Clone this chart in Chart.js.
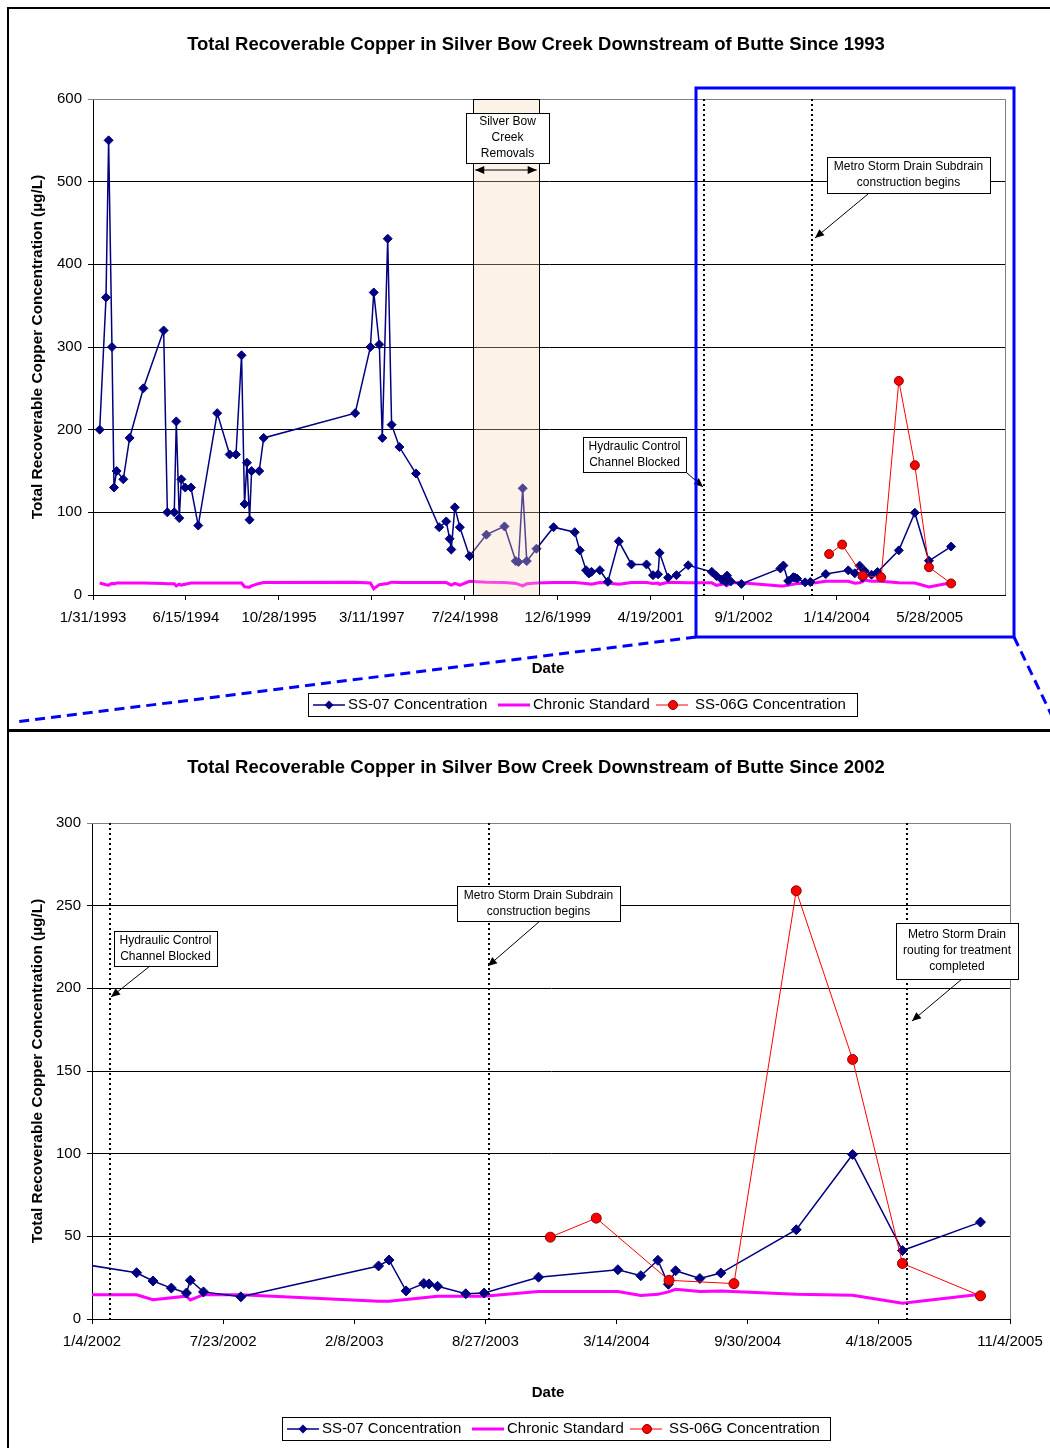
<!DOCTYPE html>
<html>
<head>
<meta charset="utf-8">
<title>Total Recoverable Copper in Silver Bow Creek</title>
<script src="https://cdn.jsdelivr.net/npm/chart.js@4.4.1/dist/chart.umd.min.js"></script>
<style>
  html, body { margin: 0; padding: 0; background: #fff; }
  #page { position: relative; width: 1050px; height: 1448px; overflow: hidden; background: #fff; }
  canvas { position: absolute; left: 0; }
  #c1 { top: 0; }
  #c2 { top: 730px; }
  .rule { position: absolute; background: #000; }
</style>
</head>
<body>
<div id="page">
  <canvas id="c1" width="1050" height="730"></canvas>
  <canvas id="c2" width="1050" height="718"></canvas>
  <div class="rule" style="left:7px;top:7px;width:2px;height:1441px"></div>
  <div class="rule" style="left:7px;top:7px;width:1043px;height:2px"></div>
  <div class="rule" style="left:7px;top:729px;width:1043px;height:3px"></div>
</div>
<script>
// ---- SS-07 total recoverable copper (µg/L) ----
const ss07Dates = [
  '1993-03-08','1993-04-11','1993-04-25','1993-05-13','1993-05-24','1993-06-07','1993-07-13','1993-08-16','1993-10-29',
  '1994-02-15','1994-03-07','1994-04-13','1994-04-24','1994-05-10','1994-05-21','1994-06-11','1994-07-12','1994-08-20','1994-11-30',
  '1995-02-05','1995-03-11','1995-04-10','1995-04-26','1995-05-09','1995-05-23','1995-06-03','1995-07-14','1995-08-07',
  '1996-12-11',
  '1997-03-03','1997-03-21','1997-04-20','1997-05-06','1997-06-04','1997-06-25','1997-08-06','1997-11-03',
  '1998-03-08','1998-04-15','1998-05-03','1998-05-12','1998-05-31','1998-06-27','1998-08-18','1998-11-17',
  '1999-02-22','1999-04-24','1999-05-08','1999-05-31','1999-06-22','1999-08-13','1999-11-13',
  '2000-03-06','2000-04-02','2000-05-06','2000-05-21','2000-06-04','2000-07-19','2000-08-31','2000-10-29',
  '2001-01-05','2001-03-27','2001-05-01','2001-05-28','2001-06-05','2001-07-21','2001-09-04','2001-11-06',
  '2002-03-13','2002-04-07','2002-05-05','2002-05-28','2002-06-03','2002-06-23','2002-08-19',
  '2003-03-17','2003-04-02','2003-04-28','2003-05-25','2003-06-02','2003-06-15','2003-07-28','2003-08-25','2003-11-16',
  '2004-03-16','2004-04-20','2004-05-16','2004-06-01','2004-06-12','2004-07-19','2004-08-20','2004-12-13',
  '2005-03-09','2005-05-24','2005-09-20'
];
const ss07Values = [
  200, 360, 550, 300, 130, 150, 140, 190, 250,
  320, 100, 100, 210, 93, 140, 130, 130, 84, 220,
  170, 170, 290, 110, 160, 91, 150, 150, 190,
  220,
  300, 366, 303, 190, 431, 206, 179, 147,
  82, 89, 68, 55, 106, 82, 47, 73,
  83, 41, 40, 129, 41, 56, 82,
  76, 54, 30, 26, 28, 30, 16, 65,
  37, 37, 24, 25, 51, 21, 24, 36,
  28, 23, 18.7, 15.7, 23.4, 16.4, 13.4,
  32.1, 35.7, 17, 21.5, 21.2, 19.8, 15.3, 15.7, 25.3,
  29.8, 26.2, 35.5, 21, 29.2, 24.5, 27.8, 54,
  99.5, 41.4, 58.6
];

// ---- SS-06G total recoverable copper (µg/L) ----
const ss06gDates = ['2003-12-04','2004-02-12','2004-06-02','2004-09-09','2004-12-13','2005-03-09','2005-05-24','2005-09-20'];
const ss06gValues = [49.5, 61, 23.4, 21.4, 259, 157, 33.6, 14];

// ---- Chronic aquatic-life standard (µg/L) ----
const chronicDates = [
  '1993-03-08','1993-04-11','1993-04-25','1993-05-13','1993-05-24','1993-06-07','1993-08-16','1993-10-29',
  '1994-02-15','1994-03-07','1994-04-13','1994-04-24','1994-05-10','1994-05-21','1994-06-11','1994-07-12','1994-11-30',
  '1995-03-11','1995-04-10','1995-04-26','1995-05-23','1995-06-03','1995-07-14','1995-08-07',
  '1996-12-11',
  '1997-03-03','1997-03-21','1997-04-20','1997-05-06','1997-06-04','1997-06-25','1997-08-06',
  '1998-04-15','1998-05-12','1998-05-31','1998-06-27','1998-08-18','1998-11-17',
  '1999-02-22','1999-04-24','1999-05-31','1999-06-22','1999-08-13','1999-11-13',
  '2000-03-06','2000-05-06','2000-06-04','2000-07-19','2000-08-31','2000-10-29',
  '2001-01-05','2001-03-27','2001-05-01','2001-05-28','2001-06-05','2001-07-21','2001-11-06',
  '2002-03-13','2002-04-07','2002-05-28','2002-06-03','2002-06-23','2002-08-19',
  '2003-03-17','2003-04-02','2003-06-15','2003-08-25','2003-11-16',
  '2004-03-16','2004-04-20','2004-05-16','2004-06-01','2004-06-12','2004-07-19','2004-08-20','2004-12-13',
  '2005-03-09','2005-05-24','2005-09-20'
];
const chronicValues = [
  14.5, 12.5, 12, 14, 13.5, 14.5, 14.5, 14.5,
  14, 13.5, 13.5, 11, 13, 12, 13, 14.5, 14.5,
  14.5, 14.5, 10, 9.5, 11, 14, 15,
  15.5,
  14.5, 7.5, 12.5, 13, 14, 15.5, 15,
  15, 12, 14, 12, 16.5, 15.5,
  15, 14, 11, 13.5, 14.5, 15,
  15, 14, 13, 15, 14.5, 13,
  15, 15, 14, 14.5, 13, 15.5, 14.7,
  14.7, 11.7, 13.8, 11.5, 14.7, 14.7,
  10.8, 10.8, 13.8, 13.8, 16.6,
  16.6, 14.2, 14.9, 16.4, 18, 16.6, 17, 14.9,
  14.4, 9.6, 14.9
];

// ---- Axis ticks ----
const topTickDates = ['1993-01-31','1994-06-15','1995-10-28','1997-03-11','1998-07-24','1999-12-06','2001-04-19','2002-09-01','2004-01-14','2005-05-28'];
const topRangeDays = 4905;
const bottomTickDates = ['2002-01-04','2002-07-23','2003-02-08','2003-08-27','2004-03-14','2004-09-30','2005-04-18','2005-11-04'];

// ---- Events ----
const eventDates = ['2002-01-31', '2003-09-01', '2005-05-31'];
const removalDates = ['1998-09-07', '1999-08-25'];

const FONT = "'Liberation Sans', Arial, Helvetica, sans-serif";
const DAY = 86400000;
const dayNum = s => { const p = s.split('-').map(Number); return Date.UTC(p[0], p[1] - 1, p[2]) / DAY; };
const fmtDate = v => { const d = new Date(Math.round(v) * DAY); return (d.getUTCMonth() + 1) + '/' + d.getUTCDate() + '/' + d.getUTCFullYear(); };
const toPoints = (dates, vals) => dates.map((d, i) => ({ x: dayNum(d), y: vals[i] }));

const NAVY = '#000080', RED = '#FF0000', MAGENTA = '#FF00FF';

function datasets(diamond, circle) {
  return [
    { label: 'SS-06G Concentration', data: toPoints(ss06gDates, ss06gValues), borderColor: RED, borderWidth: 1,
      pointStyle: 'circle', pointRadius: circle, pointBackgroundColor: RED, pointBorderColor: '#8B0000', pointBorderWidth: 1, order: 0 },
    { label: 'SS-07 Concentration', data: toPoints(ss07Dates, ss07Values), borderColor: NAVY, borderWidth: 1.5,
      pointStyle: 'rectRot', pointRadius: diamond, pointBackgroundColor: NAVY, pointBorderColor: NAVY, pointBorderWidth: 1, order: 1 },
    { label: 'Chronic Standard', data: toPoints(chronicDates, chronicValues), borderColor: MAGENTA, borderWidth: 3,
      pointRadius: 0, order: 2 }
  ];
}

// ---- drawing helpers ----
function arrowHead(ctx, x1, y1, x2, y2) {
  const ang = Math.atan2(y2 - y1, x2 - x1), L = 9, W = 4;
  ctx.beginPath();
  ctx.moveTo(x2, y2);
  ctx.lineTo(x2 - L * Math.cos(ang) + W * Math.sin(ang), y2 - L * Math.sin(ang) - W * Math.cos(ang));
  ctx.lineTo(x2 - L * Math.cos(ang) - W * Math.sin(ang), y2 - L * Math.sin(ang) + W * Math.cos(ang));
  ctx.closePath();
  ctx.fill();
}
function arrow(ctx, x1, y1, x2, y2, both) {
  ctx.save();
  ctx.strokeStyle = '#000'; ctx.fillStyle = '#000'; ctx.lineWidth = 1;
  ctx.beginPath(); ctx.moveTo(x1, y1); ctx.lineTo(x2, y2); ctx.stroke();
  arrowHead(ctx, x1, y1, x2, y2);
  if (both) arrowHead(ctx, x2, y2, x1, y1);
  ctx.restore();
}
function textBox(ctx, b) {
  ctx.save();
  ctx.fillStyle = '#fff';
  ctx.fillRect(b.x, b.y, b.w, b.h);
  ctx.strokeStyle = '#000'; ctx.lineWidth = 1;
  ctx.strokeRect(b.x + 0.5, b.y + 0.5, b.w, b.h);
  ctx.fillStyle = '#000';
  ctx.font = '12px ' + FONT;
  ctx.textAlign = 'center'; ctx.textBaseline = 'middle';
  const cx = b.x + b.w / 2, lh = 16, y0 = b.y + b.h / 2 - (b.lines.length - 1) * lh / 2;
  b.lines.forEach((t, i) => ctx.fillText(t, cx, y0 + i * lh));
  ctx.restore();
}
function diamond(ctx, x, y, r) {
  ctx.beginPath(); ctx.moveTo(x, y - r); ctx.lineTo(x + r, y); ctx.lineTo(x, y + r); ctx.lineTo(x - r, y); ctx.closePath(); ctx.fill();
}
// legend entries: sample line start and text start, measured from the box's left edge
const legendSlots = [[5, 40], [190, 225], [348, 387]];
function legend(ctx, x, y, w, h) {
  ctx.save();
  ctx.fillStyle = '#fff'; ctx.fillRect(x, y, w, h);
  ctx.strokeStyle = '#000'; ctx.lineWidth = 1; ctx.strokeRect(x + 0.5, y + 0.5, w, h);
  ctx.font = '15px ' + FONT; ctx.textBaseline = 'middle'; ctx.textAlign = 'left';
  const cy = y + h / 2 + 0.5;
  const items = [
    { t: 'SS-07 Concentration', c: NAVY, lw: 1.5, m: 'd' },
    { t: 'Chronic Standard', c: MAGENTA, lw: 3, m: null },
    { t: 'SS-06G Concentration', c: RED, lw: 1, m: 'c' }
  ];
  items.forEach((it, i) => {
    const sx = x + legendSlots[i][0];
    ctx.strokeStyle = it.c; ctx.lineWidth = it.lw;
    ctx.beginPath(); ctx.moveTo(sx, cy); ctx.lineTo(sx + 32, cy); ctx.stroke();
    if (it.m === 'd') { ctx.fillStyle = NAVY; diamond(ctx, sx + 16, cy, 4.5); }
    if (it.m === 'c') {
      ctx.fillStyle = RED; ctx.strokeStyle = '#8B0000'; ctx.lineWidth = 1;
      ctx.beginPath(); ctx.arc(sx + 17, cy, 4.5, 0, Math.PI * 2); ctx.fill(); ctx.stroke();
    }
    ctx.fillStyle = '#000';
    ctx.fillText(it.t, x + legendSlots[i][1], cy);
  });
  ctx.restore();
}

// Plugin: frame, removal band, event lines, titles, legend and notes
const decor = {
  id: 'decor',
  afterDatasetsDraw(chart, args, o) {
    const { ctx, chartArea: a, scales: { x } } = chart;
    ctx.save();
    // plot frame (top/right)
    ctx.strokeStyle = '#808080'; ctx.lineWidth = 1;
    ctx.beginPath(); ctx.moveTo(a.left, a.top + 0.5); ctx.lineTo(a.right + 0.5, a.top + 0.5); ctx.lineTo(a.right + 0.5, a.bottom); ctx.stroke();
    if (o.band) {
      const x1 = Math.round(x.getPixelForValue(dayNum(removalDates[0]))), x2 = Math.round(x.getPixelForValue(dayNum(removalDates[1])));
      ctx.fillStyle = 'rgba(250,215,180,0.32)';
      ctx.fillRect(x1, a.top, x2 - x1, a.bottom - a.top);
      ctx.strokeStyle = '#000'; ctx.lineWidth = 1;
      ctx.strokeRect(x1 + 0.5, a.top + 0.5, x2 - x1, a.bottom - a.top);
    }
    ctx.strokeStyle = '#000'; ctx.lineWidth = 2; ctx.setLineDash([2, 3]);
    o.events.forEach(d => {
      const px = Math.round(x.getPixelForValue(dayNum(d)));
      if (px < a.left || px > a.right) return;
      ctx.beginPath(); ctx.moveTo(px, a.top); ctx.lineTo(px, a.bottom); ctx.stroke();
    });
    ctx.restore();
  },
  afterDraw(chart, args, o) {
    const { ctx, chartArea: a, scales: { x } } = chart;
    ctx.save();
    ctx.fillStyle = '#000';
    ctx.textAlign = 'center'; ctx.textBaseline = 'middle';
    ctx.font = 'bold 18.5px ' + FONT;
    ctx.fillText(o.title, 536, o.titleY);
    ctx.font = 'bold 15px ' + FONT;
    ctx.fillText('Date', 548, o.dateY);
    ctx.save();
    ctx.translate(38, (a.top + a.bottom) / 2);
    ctx.rotate(-Math.PI / 2);
    ctx.font = 'bold 15.4px ' + FONT;
    ctx.fillText('Total Recoverable Copper Concentration (µg/L)', 0, 0);
    ctx.restore();
    legend(ctx, o.legend[0], o.legend[1], o.legend[2], o.legend[3]);
    if (o.band) {
      const x1 = x.getPixelForValue(dayNum(removalDates[0])), x2 = x.getPixelForValue(dayNum(removalDates[1]));
      textBox(ctx, o.band);
      arrow(ctx, x1 + 2, o.band.arrowY, x2 - 2, o.band.arrowY, true);
    }
    o.notes.forEach(n => { textBox(ctx, n); arrow(ctx, n.from[0], n.from[1], n.to[0], n.to[1], false); });
    if (o.zoom) {
      const z = o.zoom;
      const left = Math.round(x.getPixelForValue(dayNum(bottomTickDates[0]))) - 3;
      const right = a.right + 9;
      ctx.strokeStyle = '#0000FF'; ctx.lineWidth = 3;
      ctx.strokeRect(left, z.top, right - left, z.bottom - z.top);
      ctx.setLineDash([10, 6]);
      ctx.beginPath(); ctx.moveTo(left, z.bottom); ctx.lineTo(15, 722); ctx.stroke();
      ctx.beginPath(); ctx.moveTo(right, z.bottom); ctx.lineTo(right + 48, z.bottom + 100); ctx.stroke();
    }
    ctx.restore();
  }
};

function scalesFor(min, max, ticks, yMax, yStep, yWidth, xHeight) {
  return {
    x: {
      type: 'linear', min: min, max: max,
      afterBuildTicks: s => { s.ticks = ticks.map(v => ({ value: v })); },
      // plot area edges come from the layout padding, not from label overflow
      afterFit: s => { s.height = xHeight; s.paddingLeft = 0; s.paddingRight = 0; },
      ticks: { callback: v => fmtDate(v), color: '#000', font: { family: FONT, size: 15 }, maxRotation: 0, autoSkip: false, padding: 9 },
      grid: { drawOnChartArea: false, drawTicks: true, tickLength: 5, color: '#000' },
      border: { color: '#000', width: 1 }
    },
    y: {
      min: 0, max: yMax,
      afterFit: s => { s.width = yWidth; },
      ticks: { stepSize: yStep, color: '#000', font: { family: FONT, size: 15 }, padding: 6 },
      grid: { color: c => (c.tick && c.tick.value === yMax) ? '#808080' : '#000', lineWidth: 1, tickLength: 5 },
      border: { color: '#000', width: 1 }
    }
  };
}

const topMin = dayNum(topTickDates[0]);
new Chart(document.getElementById('c1'), {
  type: 'line',
  data: { datasets: datasets(4.5, 4.5) },
  options: {
    responsive: false, animation: false,
    layout: { padding: { left: 0, right: 45, top: 99, bottom: 0 } },
    elements: { line: { tension: 0 } },
    scales: scalesFor(topMin, topMin + topRangeDays, topTickDates.map(dayNum), 600, 100, 93, 135),
    plugins: {
      legend: { display: false }, tooltip: { enabled: false },
      decor: {
        title: 'Total Recoverable Copper in Silver Bow Creek Downstream of Butte Since 1993',
        titleY: 45, dateY: 669,
        legend: [308, 693, 549, 23],
        events: eventDates.slice(0, 2),
        band: { x: 466, y: 113, w: 83, h: 50, lines: ['Silver Bow', 'Creek', 'Removals'], arrowY: 170 },
        notes: [
          { x: 583, y: 437, w: 103, h: 35, lines: ['Hydraulic Control', 'Channel Blocked'], from: [687, 473], to: [703, 487] },
          { x: 827, y: 157, w: 163, h: 36, lines: ['Metro Storm Drain Subdrain', 'construction begins'], from: [868, 194], to: [815, 238] }
        ],
        zoom: { top: 88, bottom: 637 }
      }
    }
  },
  plugins: [decor]
});

new Chart(document.getElementById('c2'), {
  type: 'line',
  data: { datasets: datasets(5, 5) },
  options: {
    responsive: false, animation: false,
    layout: { padding: { left: 0, right: 40, top: 93, bottom: 0 } },
    elements: { line: { tension: 0 } },
    scales: scalesFor(dayNum(bottomTickDates[0]), dayNum(bottomTickDates[bottomTickDates.length - 1]), bottomTickDates.map(dayNum), 300, 50, 92, 129),
    plugins: {
      legend: { display: false }, tooltip: { enabled: false },
      decor: {
        title: 'Total Recoverable Copper in Silver Bow Creek Downstream of Butte Since 2002',
        titleY: 38, dateY: 663,
        legend: [282, 687, 548, 23],
        events: eventDates,
        band: null,
        notes: [
          { x: 114, y: 201, w: 103, h: 35, lines: ['Hydraulic Control', 'Channel Blocked'], from: [150, 236], to: [111, 267] },
          { x: 457, y: 156, w: 163, h: 35, lines: ['Metro Storm Drain Subdrain', 'construction begins'], from: [540, 191], to: [488, 236] },
          { x: 896, y: 193, w: 122, h: 56, lines: ['Metro Storm Drain', 'routing for treatment', 'completed'], from: [962, 249], to: [912, 291] }
        ],
        zoom: null
      }
    }
  },
  plugins: [decor]
});
</script>
</body>
</html>
